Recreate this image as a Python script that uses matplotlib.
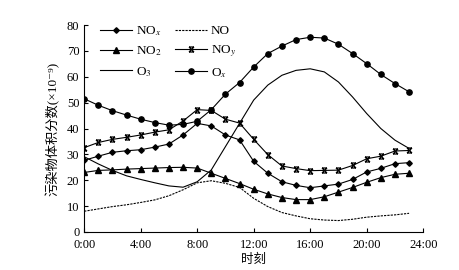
import numpy as np
import matplotlib
matplotlib.use("Agg")
import matplotlib.pyplot as plt
from matplotlib.path import Path

plt.rcParams['font.family'] = ['Liberation Serif', 'Noto Sans CJK SC', 'DejaVu Serif']
plt.rcParams['mathtext.fontset'] = 'stix'
plt.rcParams['font.size'] = 9

# 逐时数据 (×10^-9)
hours = list(range(24))
nox = [27.7, 29.3, 30.8, 31.4, 31.8, 32.8, 34.0, 37.5, 42.0, 41.0, 37.5, 35.6,
       27.3, 22.7, 19.4, 18.0, 17.1, 17.8, 18.5, 20.3, 23.2, 24.6, 26.4, 26.8]
no = [8.0, 8.9, 9.8, 10.5, 11.4, 12.4, 14.0, 16.3, 19.0, 19.8, 18.8, 17.2,
      13.0, 9.8, 7.5, 6.2, 5.1, 4.6, 4.4, 4.9, 5.7, 6.2, 6.6, 7.2]
no2 = [23.0, 23.8, 24.0, 24.3, 24.5, 24.7, 24.9, 25.0, 24.7, 22.7, 20.7, 18.7,
       16.5, 14.7, 13.3, 12.5, 12.5, 13.6, 15.4, 17.2, 19.2, 21.0, 22.3, 22.7]
noy = [32.6, 34.6, 35.8, 36.6, 37.5, 38.6, 39.5, 42.9, 47.3, 47.0, 43.6, 42.1,
       35.8, 29.9, 25.5, 24.5, 23.7, 23.8, 23.9, 25.7, 28.3, 29.3, 31.3, 31.5]
o3 = [29.1, 26.3, 23.8, 21.7, 20.3, 19.0, 17.8, 17.3, 19.4, 24.0, 33.0, 42.0,
      51.0, 56.8, 60.6, 62.5, 63.1, 61.9, 58.0, 52.2, 45.8, 40.0, 35.5, 32.3]
ox = [51.5, 49.0, 46.9, 45.2, 43.6, 42.3, 41.3, 41.6, 42.8, 47.3, 53.3, 57.8,
      63.8, 69.0, 71.9, 74.4, 75.3, 75.0, 72.6, 69.0, 65.1, 60.9, 57.4, 54.2]

xticks = [0, 4, 8, 12, 16, 20, 24]
xticklabels = ["0:00", "4:00", "8:00", "12:00", "16:00", "20:00", "24:00"]

# NOy 标记：带上下横线的叉
hourglass = Path([(-1, -1), (1, 1), (-1, 1), (1, -1), (-1, 1), (1, 1), (-1, -1), (1, -1)],
                 [Path.MOVETO, Path.LINETO, Path.MOVETO, Path.LINETO,
                  Path.MOVETO, Path.LINETO, Path.MOVETO, Path.LINETO])

fig = plt.figure(figsize=(4.6, 2.7), dpi=100)
ax = fig.add_axes([0.183, 0.141, 0.737, 0.766])

lw = 0.8
h_nox, = ax.plot(hours, nox, 'k-', lw=lw, marker='D', ms=2.8, label='NO$_x$')
h_no, = ax.plot(hours, no, 'k--', lw=lw, dashes=(2, 1), label='NO')
h_no2, = ax.plot(hours, no2, 'k-', lw=lw, marker='^', ms=3.8, label='NO$_2$')
h_noy, = ax.plot(hours, noy, 'k-', lw=lw, marker=hourglass, ms=3.6, mew=0.9, label='NO$_y$')
h_o3, = ax.plot(hours, o3, 'k-', lw=lw, label='O$_3$')
h_ox, = ax.plot(hours, ox, 'k-', lw=lw, marker='o', ms=3.8, label='O$_x$')

ax.set_xlim(0, 24)
ax.set_ylim(0, 80)
ax.set_xticks(xticks)
ax.set_xticklabels(xticklabels)
ax.set_yticks(range(0, 81, 10))
ax.tick_params(direction='in', length=3, width=0.8, labelsize=9)
ax.tick_params(axis='x', pad=5)
for s in ['top', 'right']:
    ax.spines[s].set_visible(False)
for s in ['left', 'bottom']:
    ax.spines[s].set_linewidth(0.8)

ax.set_xlabel("时刻", fontsize=9, labelpad=2)
ax.set_ylabel("污染物体积分数(×10⁻⁹)", fontsize=9.5, labelpad=5)

# 图例按行排列：NOx NO / NO2 NOy / O3 Ox
handles = [h_nox, h_no2, h_o3, h_no, h_noy, h_ox]
ax.legend(handles=handles, loc='upper left', bbox_to_anchor=(0.032, 1.03), ncol=2,
          frameon=False, handlelength=2.4, handletextpad=0.3, columnspacing=1.0,
          labelspacing=0.5, fontsize=9.5, borderaxespad=0)

fig.savefig("out.png", dpi=100)
